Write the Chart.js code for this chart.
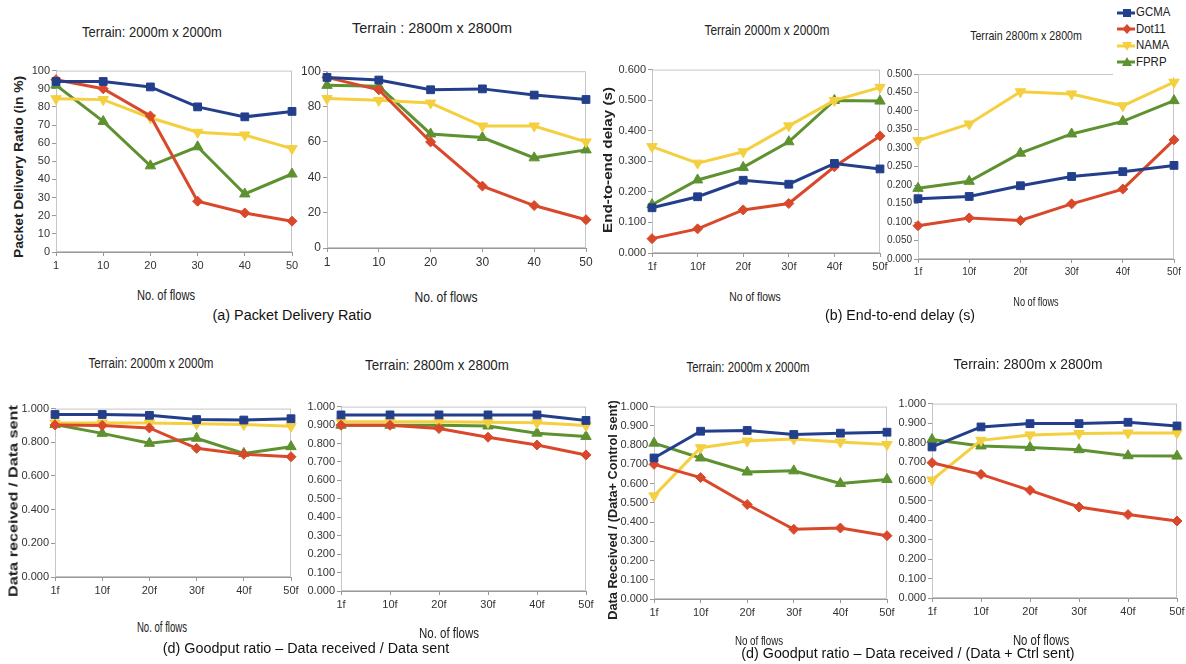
<!DOCTYPE html>
<html>
<head>
<meta charset="utf-8">
<script src="https://cdn.jsdelivr.net/npm/chart.js@4.4.1/dist/chart.umd.min.js"></script>
<style>
  body { margin: 0; background: #fff; width: 1186px; height: 664px; position: relative; overflow: hidden; }
  canvas { position: absolute; }
  .t { position: absolute; white-space: nowrap; color: #222; line-height: 1;
       font-family: "Liberation Sans Narrow", "Liberation Sans", Arial, sans-serif; }
  .cap { font-family: "Liberation Sans", Arial, sans-serif; color: #111; }
  .yt { font-family: "Liberation Sans", Arial, sans-serif; font-weight: bold; color: #222; }
  #legend { position: absolute; left: 1113px; top: 0; width: 73px; height: 77px; background: #fff; z-index: 2;
            font-family: "Liberation Sans Narrow", "Liberation Sans", sans-serif; font-size: 13px; color: #222; }
  #legend div { position: absolute; left: 4px; height: 14px; line-height: 14px; }
  #legend span { display: inline-block; transform: scaleX(0.88); transform-origin: left center; }
  #legend svg { vertical-align: middle; margin-right: 1px; }
</style>
</head>
<body>
<div id="legend"></div>
<script>
// categories
const flowsNum = ['1', '10', '20', '30', '40', '50'];
const flowsF = ['1f', '10f', '20f', '30f', '40f', '50f'];
const seriesNames = ['GCMA', 'Dot11', 'NAMA', 'FPRP'];

// (a) packet delivery ratio (%), 2000m
const pdr2000GCMA  = [94, 94, 91, 80, 74.5, 77.5];
const pdr2000Dot11 = [95, 90, 75, 28, 21.5, 17];
const pdr2000NAMA  = [84.5, 84, 74, 66, 64.5, 57];
const pdr2000FPRP  = [92, 72, 47.5, 58, 32, 43];
// (a) 2800m
const pdr2800GCMA  = [96.5, 95, 89.5, 90, 86.5, 84];
const pdr2800Dot11 = [96.5, 89.5, 60, 35, 24, 16];
const pdr2800NAMA  = [84.5, 83.5, 82, 69, 69, 60];
const pdr2800FPRP  = [92, 91.5, 64.5, 62.5, 51, 55.5];

// (b) end-to-end delay (s), 2000m
const delay2000GCMA  = [0.148, 0.184, 0.238, 0.225, 0.293, 0.275];
const delay2000Dot11 = [0.047, 0.079, 0.141, 0.162, 0.282, 0.383];
const delay2000NAMA  = [0.348, 0.294, 0.331, 0.416, 0.499, 0.542];
const delay2000FPRP  = [0.158, 0.239, 0.280, 0.364, 0.499, 0.497];
// (b) 2800m
const delay2800GCMA  = [0.163, 0.169, 0.198, 0.223, 0.236, 0.253];
const delay2800Dot11 = [0.090, 0.111, 0.104, 0.149, 0.189, 0.322];
const delay2800NAMA  = [0.320, 0.365, 0.452, 0.446, 0.414, 0.478];
const delay2800FPRP  = [0.191, 0.210, 0.286, 0.338, 0.372, 0.428];

// goodput, data received / data sent, 2000m
const good2000GCMA  = [0.965, 0.965, 0.960, 0.935, 0.932, 0.940];
const good2000Dot11 = [0.903, 0.900, 0.885, 0.764, 0.729, 0.714];
const good2000NAMA  = [0.915, 0.915, 0.915, 0.910, 0.905, 0.895];
const good2000FPRP  = [0.905, 0.853, 0.794, 0.824, 0.734, 0.774];
// 2800m
const good2800GCMA  = [0.955, 0.955, 0.955, 0.955, 0.955, 0.925];
const good2800Dot11 = [0.899, 0.899, 0.881, 0.834, 0.792, 0.738];
const good2800NAMA  = [0.918, 0.918, 0.918, 0.915, 0.912, 0.897];
const good2800FPRP  = [0.899, 0.899, 0.899, 0.895, 0.856, 0.838];

// goodput, data received / (data + ctrl sent), 2000m
const ctrl2000GCMA  = [0.733, 0.872, 0.876, 0.855, 0.862, 0.867];
const ctrl2000Dot11 = [0.700, 0.631, 0.491, 0.362, 0.369, 0.329];
const ctrl2000NAMA  = [0.536, 0.786, 0.821, 0.831, 0.816, 0.803];
const ctrl2000FPRP  = [0.810, 0.733, 0.660, 0.666, 0.600, 0.621];
// 2800m
const ctrl2800GCMA  = [0.777, 0.880, 0.897, 0.897, 0.904, 0.885];
const ctrl2800Dot11 = [0.696, 0.636, 0.554, 0.468, 0.429, 0.396];
const ctrl2800NAMA  = [0.607, 0.811, 0.839, 0.846, 0.849, 0.849];
const ctrl2800FPRP  = [0.815, 0.782, 0.774, 0.763, 0.732, 0.730];

const colors = ['#233f8c', '#d9482b', '#f4cf40', '#5e9130'];
const markers = [
  { style: 'rect', rot: 0, r: 5.5 },
  { style: 'rectRot', rot: 0, r: 5 },
  { style: 'triangle', rot: 180, r: 6 },
  { style: 'triangle', rot: 0, r: 6 }
];

const NARROW = '"Liberation Sans Narrow", "Liberation Sans", Arial, sans-serif';

// box round the plot area
const boxPlugin = {
  id: 'box',
  beforeDatasetsDraw(chart) {
    const a = chart.chartArea, c = chart.ctx;
    c.save();
    c.strokeStyle = '#c6c6c6';
    c.lineWidth = 1;
    c.strokeRect(a.left + 0.5, a.top + 0.5, a.right - a.left - 1, a.bottom - a.top - 1);
    c.restore();
  }
};

function makePanel(p) {
  var padTop = 8, padRight = 12, xH = 24;
  var left = p.left - p.yW, top = p.top - padTop;
  var w = p.right + padRight - left, h = p.bottom + xH - top;

  var cv = document.createElement('canvas');
  cv.width = w; cv.height = h;
  cv.style.left = left + 'px'; cv.style.top = top + 'px';
  cv.style.width = w + 'px'; cv.style.height = h + 'px';
  document.body.appendChild(cv);

  var datasets = p.series.map(function (vals, i) {
    return {
      label: seriesNames[i],
      data: vals,
      borderColor: colors[i],
      backgroundColor: colors[i],
      borderWidth: 3,
      pointStyle: markers[i].style,
      pointRotation: markers[i].rot,
      pointRadius: markers[i].r,
      pointBorderWidth: 1,
      tension: 0,
      clip: false
    };
  });

  new Chart(cv, {
    type: 'line',
    data: { labels: p.labels, datasets: datasets },
    plugins: [boxPlugin],
    options: {
      responsive: false,
      animation: false,
      devicePixelRatio: 1,
      layout: { padding: { top: padTop, right: padRight, left: 0, bottom: 0 } },
      plugins: { legend: { display: false }, tooltip: { enabled: false } },
      scales: {
        x: {
          type: 'category',
          offset: false,
          afterFit: function (s) { s.height = xH; },
          grid: { display: true, drawOnChartArea: false, drawTicks: true, tickLength: 4, color: '#999' },
          border: { display: true, color: '#999' },
          ticks: { color: '#333', font: { family: NARROW, size: p.font }, padding: 3, autoSkip: false, maxRotation: 0 }
        },
        y: {
          min: p.min, max: p.max,
          afterFit: function (s) { s.width = p.yW; },
          grid: { display: true, drawOnChartArea: false, drawTicks: true, tickLength: 4, color: '#999' },
          border: { display: true, color: '#999' },
          ticks: {
            stepSize: p.step, autoSkip: false, color: '#333', padding: 2,
            font: { family: NARROW, size: p.font },
            callback: function (v) { return Number(v).toFixed(p.dec); }
          }
        }
      }
    }
  });
}

// text centred on (x, y), squeezed to the wanted width to get the narrow look of the original
function addText(txt, x, y, size, width, cls, rotate) {
  var d = document.createElement('div');
  d.className = 't' + (cls ? ' ' + cls : '');
  d.textContent = txt;
  d.style.fontSize = size + 'px';
  document.body.appendChild(d);
  var k = width ? width / d.offsetWidth : 1;
  d.style.left = x + 'px';
  d.style.top = y + 'px';
  d.style.transform = 'translate(-50%, -50%)' + (rotate ? ' rotate(-90deg)' : '') + ' scaleX(' + k.toFixed(3) + ')';
}

var panels = [
  { left: 56, right: 292, top: 70, bottom: 252, yW: 30, min: 0, max: 100, step: 10, dec: 0, font: 11, labels: flowsNum,
    series: [pdr2000GCMA, pdr2000Dot11, pdr2000NAMA, pdr2000FPRP] },
  { left: 327, right: 586, top: 70, bottom: 248, yW: 30, min: 0, max: 100, step: 20, dec: 0, font: 12, labels: flowsNum,
    series: [pdr2800GCMA, pdr2800Dot11, pdr2800NAMA, pdr2800FPRP] },
  { left: 652, right: 880, top: 69, bottom: 253, yW: 40, min: 0, max: 0.6, step: 0.1, dec: 3, font: 11, labels: flowsF,
    series: [delay2000GCMA, delay2000Dot11, delay2000NAMA, delay2000FPRP] },
  { left: 918, right: 1174, top: 74, bottom: 259, yW: 38, min: 0, max: 0.5, step: 0.05, dec: 3, font: 10, labels: flowsF,
    series: [delay2800GCMA, delay2800Dot11, delay2800NAMA, delay2800FPRP] },
  { left: 55, right: 291, top: 408, bottom: 577, yW: 38, min: 0, max: 1, step: 0.2, dec: 3, font: 11, labels: flowsF,
    series: [good2000GCMA, good2000Dot11, good2000NAMA, good2000FPRP] },
  { left: 341, right: 586, top: 406, bottom: 591, yW: 40, min: 0, max: 1, step: 0.1, dec: 3, font: 11, labels: flowsF,
    series: [good2800GCMA, good2800Dot11, good2800NAMA, good2800FPRP] },
  { left: 654, right: 887, top: 406, bottom: 599, yW: 40, min: 0, max: 1, step: 0.1, dec: 3, font: 11, labels: flowsF,
    series: [ctrl2000GCMA, ctrl2000Dot11, ctrl2000NAMA, ctrl2000FPRP] },
  { left: 932, right: 1177, top: 403, bottom: 598, yW: 40, min: 0, max: 1, step: 0.1, dec: 3, font: 11, labels: flowsF,
    series: [ctrl2800GCMA, ctrl2800Dot11, ctrl2800NAMA, ctrl2800FPRP] }
];
panels.forEach(makePanel);

// panel titles
addText('Terrain: 2000m x 2000m', 152, 31, 15, 140);
addText('Terrain : 2800m x 2800m', 432, 27, 15, 160);
addText('Terrain 2000m x 2000m', 767, 30, 14, 125);
addText('Terrain 2800m x 2800m', 1026, 35, 13, 112);
addText('Terrain: 2000m x 2000m', 151, 363, 14, 125);
addText('Terrain: 2800m x 2800m', 437, 364, 15, 144);
addText('Terrain: 2000m x 2000m', 748, 367, 14, 123);
addText('Terrain: 2800m x 2800m', 1028, 363, 15, 149);

// x axis titles
addText('No. of flows', 166, 295, 14, 58);
addText('No. of flows', 446, 297, 14, 63);
addText('No of flows', 755, 296, 13, 51);
addText('No of flows', 1036, 302, 12, 45);
addText('No. of flows', 162, 627, 14, 50);
addText('No. of flows', 449, 633, 14, 60);
addText('No of flows', 759, 640, 13, 48);
addText('No of flows', 1041, 640, 14, 56);

// y axis titles
addText('Packet Delivery Ratio (in %)', 18, 167, 13, 182, 'yt', true);
addText('End-to-end delay (s)', 607, 160, 13, 146, 'yt', true);
addText('Data received / Data sent', 13, 501, 13, 192, 'yt', true);
addText('Data Received / (Data+ Control sent)', 612, 510, 13, 219, 'yt', true);

// captions
addText('(a) Packet Delivery Ratio', 292, 315, 14, 159, 'cap');
addText('(b) End-to-end delay (s)', 900, 315, 14, 150, 'cap');
addText('(d) Goodput ratio \u2013 Data received / Data sent', 306, 648, 14, 286, 'cap');
addText('(d) Goodput ratio \u2013 Data received / (Data + Ctrl sent)', 908, 653, 14, 333, 'cap');

// legend
var shapes = [
  '<rect x="6" y="3" width="8" height="8"/>',
  '<polygon points="10,2 14.5,7 10,12 5.5,7"/>',
  '<polygon points="5,3 15,3 10,12"/>',
  '<polygon points="5,11 15,11 10,2"/>'
];
var lg = document.getElementById('legend');
seriesNames.forEach(function (name, i) {
  var row = document.createElement('div');
  row.style.top = (5 + i * 16.5) + 'px';
  row.innerHTML = '<svg width="18" height="14" fill="' + colors[i] + '">' +
    '<line x1="0" y1="7" x2="18" y2="7" stroke="' + colors[i] + '" stroke-width="3"/>' + shapes[i] + '</svg><span>' + name + '</span>';
  lg.appendChild(row);
});
</script>
</body>
</html>
